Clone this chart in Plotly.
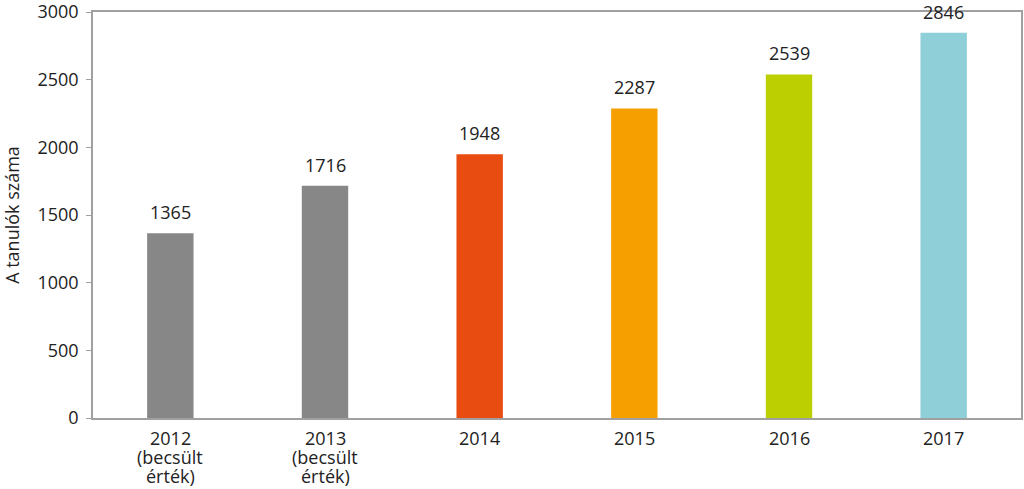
import plotly.graph_objects as go

categories = ["2012<br>(becsült<br>érték)", "2013<br>(becsült<br>érték)", "2014", "2015", "2016", "2017"]
values = [1365, 1716, 1948, 2287, 2539, 2846]
colors = ["#878787", "#878787", "#e84c10", "#f5a000", "#bccf00", "#8fcfd8"]
y_ticks = [0, 500, 1000, 1500, 2000, 2500, 3000]

font_family = "Open Sans, Liberation Sans, sans-serif"
text_color = "#222222"
xpos = list(range(len(categories)))

fig = go.Figure()
fig.add_trace(go.Bar(
    x=xpos, y=values,
    marker=dict(color=colors, line=dict(width=0)),
    width=0.3,
    hovertext=[c.replace("<br>", " ") for c in categories],
    hoverinfo="text+y",
))

# value labels above bars
for xp, v in zip(xpos, values):
    fig.add_annotation(
        x=xp, y=v, text=str(v), showarrow=False,
        yanchor="bottom", yshift=7,
        font=dict(family=font_family, size=18, color=text_color),
    )

# category labels (drawn line by line for tight line spacing)
for xp, c in zip(xpos, categories):
    for i, line in enumerate(c.split("<br>")):
        fig.add_annotation(
            x=xp, y=0, yref="y", text=line, showarrow=False,
            yanchor="middle", yshift=-(20 + 19 * i),
            font=dict(family=font_family, size=18, color=text_color),
        )

fig.update_layout(
    width=1024, height=489,
    margin=dict(l=93, r=3, t=12, b=71),
    paper_bgcolor="white", plot_bgcolor="white",
    showlegend=False,
    font=dict(family=font_family, size=18, color=text_color),
)
fig.update_xaxes(
    range=[-0.5, len(categories) - 0.5], automargin=False,
    tickvals=xpos, showticklabels=False,
    showline=True, linecolor="#a0a0a0", linewidth=2, mirror=True,
    showgrid=False, zeroline=False, ticks="",
)
fig.update_yaxes(
    range=[0, 3000], tickvals=y_ticks, automargin=False,
    showline=True, linecolor="#a0a0a0", linewidth=1.5, mirror=True,
    showgrid=False, zeroline=False,
    ticks="outside", ticklen=5, tickcolor="#a0a0a0",
    ticklabelstandoff=4, ticklabeloverflow="allow",
    tickfont=dict(size=18),
    title=dict(text="A tanulók száma", font=dict(size=18), standoff=14),
)

fig.write_html(
    "out.html",
    config={"displayModeBar": False},
    post_script="document.body.style.margin='0';document.body.style.overflow='hidden';",
)
